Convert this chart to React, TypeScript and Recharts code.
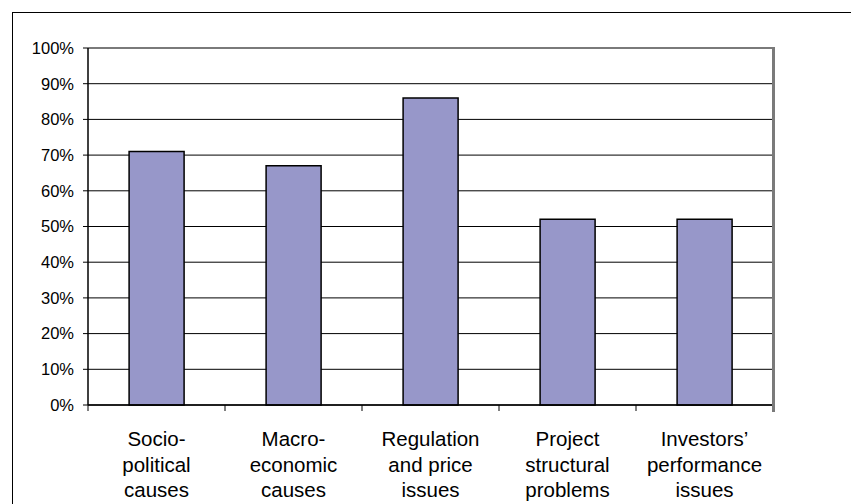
import React from "react";
import {
  BarChart, Bar, XAxis, YAxis, CartesianGrid,
} from "recharts";

const categories = [
  "Socio-political causes",
  "Macro-economic causes",
  "Regulation and price issues",
  "Project structural problems",
  "Investors’ performance issues",
];
const tickLines = [
  ["Socio-", "political", "causes"],
  ["Macro-", "economic", "causes"],
  ["Regulation", "and price", "issues"],
  ["Project", "structural", "problems"],
  ["Investors’", "performance", "issues"],
];
const shares = [0.71, 0.67, 0.86, 0.52, 0.52];
const yTicks = [0, 0.1, 0.2, 0.3, 0.4, 0.5, 0.6, 0.7, 0.8, 0.9, 1];

const data = categories.map((c, i) => ({ name: c, value: shares[i] }));

const W = 851;
const H = 504;
const MARGIN = { top: 48, right: 78, bottom: 4, left: 12 };
const YAXIS_W = 76;
const XAXIS_H = 95;
const PLOT_L = MARGIN.left + YAXIS_W;
const PLOT_W = W - PLOT_L - MARGIN.right;
const PLOT_B = H - MARGIN.bottom - XAXIS_H;
const BAND = PLOT_W / categories.length;
const FONT = "'Liberation Sans', Arial, sans-serif";

const pct = (v: number) => Math.round(v * 100) + "%";

// eslint-disable-next-line @typescript-eslint/no-explicit-any
function CatTick(props: any) {
  const { x, payload, index } = props;
  const lines = tickLines[index] || [payload.value];
  const offsets = [41, 66.5, 92];
  return (
    <g>
      <line x1={x - BAND / 2} x2={x - BAND / 2} y1={PLOT_B} y2={PLOT_B + 6} stroke="#000" strokeWidth={1} />
      {lines.map((l: string, i: number) => (
        <text key={i} x={x} y={PLOT_B + offsets[i]} textAnchor="middle" fontFamily={FONT} fontSize={20.5} fill="#000">
          {l}
        </text>
      ))}
    </g>
  );
}

export default function App() {
  return (
    <div style={{ position: "absolute", left: 0, top: 0, width: W, height: H, overflow: "hidden", background: "#fff" }}>
      <div style={{ position: "absolute", left: 12, top: 12, width: W + 20, height: H + 20, border: "1.5px solid #000", boxSizing: "border-box" }} />
      <div style={{ position: "absolute", left: 0, top: 0 }}>
        <BarChart width={W} height={H} data={data} margin={MARGIN} barCategoryGap="30%">
          <CartesianGrid vertical={false} stroke="#000" strokeWidth={1} />
          <XAxis
            dataKey="name"
            height={XAXIS_H}
            interval={0}
            tickLine={false}
            axisLine={{ stroke: "#000", strokeWidth: 1.5 }}
            tick={<CatTick />}
          />
          <YAxis
            domain={[0, 1]}
            ticks={yTicks}
            width={YAXIS_W}
            tickFormatter={pct}
            tickSize={5}
            tickMargin={9}
            tickLine={{ stroke: "#000" }}
            axisLine={{ stroke: "#000", strokeWidth: 1.5 }}
            tick={{ fontFamily: FONT, fontSize: 16.5, fill: "#000" }}
          />
          <Bar dataKey="value" fill="#9797C9" stroke="#000" strokeWidth={1.5} isAnimationActive={false} />
        </BarChart>
      </div>
      {/* plot frame: grey top and right edges */}
      <div
        style={{
          position: "absolute",
          left: PLOT_L + 1,
          top: MARGIN.top - 1,
          width: PLOT_W + 1,
          height: PLOT_B - MARGIN.top + 8,
          borderTop: "2px solid #7a7a7a",
          borderRight: "3px solid #7a7a7a",
          boxSizing: "border-box",
          pointerEvents: "none",
        }}
      />
    </div>
  );
}
